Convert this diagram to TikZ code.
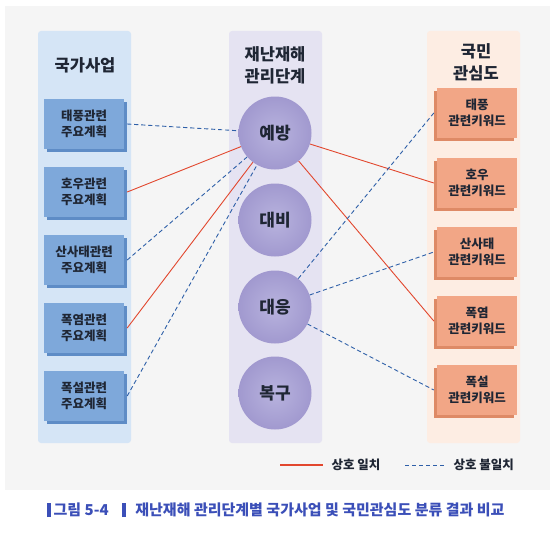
\documentclass[tikz,border=0pt]{standalone}
\usepackage{fontspec}
\setmainfont{Noto Sans CJK KR}
\usetikzlibrary{shadows}
\definecolor{panelbg}{HTML}{F5F5F5}
\definecolor{leftbg}{HTML}{D5E5F6}
\definecolor{midbg}{HTML}{E5E3F2}
\definecolor{rightbg}{HTML}{FDEDE3}
\definecolor{bluebox}{HTML}{7EA8DA}
\definecolor{blueside}{HTML}{5E8CC6}
\definecolor{orbox}{HTML}{F2A686}
\definecolor{orside}{HTML}{DE8A66}
\definecolor{circin}{HTML}{B8B3DE}
\definecolor{circout}{HTML}{A199CF}
\definecolor{matchred}{HTML}{E2472E}
\definecolor{missblue}{HTML}{2E5FA8}
\definecolor{capblue}{HTML}{3B4FB8}
\definecolor{darktext}{HTML}{1F2634}
\tikzset{
  colbg/.style={rounded corners=3pt, draw=none},
  planbox/.style={fill=bluebox, minimum width=80pt, minimum height=50pt, inner sep=0pt,
    align=center, text=darktext, font=\fontsize{12.5}{16}\selectfont\bfseries,
    drop shadow={shadow xshift=3pt, shadow yshift=-3pt, fill=blueside, opacity=1}},
  kwbox/.style={fill=orbox, minimum width=80pt, minimum height=50pt, inner sep=0pt,
    align=center, text=darktext, font=\fontsize{12.5}{16}\selectfont\bfseries,
    drop shadow={shadow xshift=-3pt, shadow yshift=-3pt, fill=orside, opacity=1}},
  phase/.style={circle, minimum size=73pt, inner sep=0pt, shading=radial,
    inner color=circin, outer color=circout, text=darktext,
    font=\fontsize{17}{18}\selectfont\bfseries},
  coltitle/.style={align=center, text=darktext, font=\fontsize{16.5}{22}\selectfont\bfseries},
  match/.style={draw=matchred, line width=0.9pt},
  nomatch/.style={draw=missblue, line width=0.9pt, dash pattern=on 4.2pt off 2.8pt},
  legtext/.style={anchor=west, text=darktext, font=\fontsize{12.5}{14}\selectfont\bfseries},
}
\begin{document}
\begin{tikzpicture}[x=1pt, y=-1pt]
\useasboundingbox (0,0) rectangle (557,535);
\fill[white] (0,0) rectangle (557,535);
\fill[panelbg] (5,6) rectangle (550,490);
% column backgrounds
\fill[colbg, leftbg] (38,31) rectangle (131,443);
\fill[colbg, midbg] (229,31) rectangle (322,443);
\fill[colbg, rightbg] (427,31) rectangle (520,443);
% titles
\node[coltitle] (tl) at (85,65) {국가사업};
\node[coltitle] (tm) at (275,65) {재난재해\\관리단계};
\node[coltitle] (tr) at (476,62) {국민\\관심도};
% left boxes
\node[planbox] (L1) at (84,124) {태풍관련\\주요계획};
\node[planbox] (L2) at (84,192) {호우관련\\주요계획};
\node[planbox] (L3) at (84,260) {산사태관련\\주요계획};
\node[planbox] (L4) at (84,328) {폭염관련\\주요계획};
\node[planbox] (L5) at (84,396) {폭설관련\\주요계획};
% phases
\node[phase] (P1) at (275,133) {예방};
\node[phase] (P2) at (275,220) {대비};
\node[phase] (P3) at (275,307) {대응};
\node[phase] (P4) at (275,393) {복구};
% right boxes
\node[kwbox] (R1) at (477,113) {태풍\\관련키워드};
\node[kwbox] (R2) at (477,183) {호우\\관련키워드};
\node[kwbox] (R3) at (477,252) {산사태\\관련키워드};
\node[kwbox] (R4) at (477,321) {폭염\\관련키워드};
\node[kwbox] (R5) at (477,390) {폭설\\관련키워드};
% connectors left
\draw[nomatch] ([xshift=3pt]L1.east) -- (P1);
\draw[match] ([xshift=3pt]L2.east) -- (P1);
\draw[nomatch] ([xshift=3pt]L3.east) -- (P1);
\draw[match] ([xshift=3pt]L4.east) -- (P1);
\draw[nomatch] ([xshift=3pt]L5.east) -- (P1);
% connectors right
\draw[match] (P1) -- ([xshift=-3pt]R2.west);
\draw[match] (P1) -- ([xshift=-3pt]R4.west);
\draw[nomatch] (P3) -- ([xshift=-3pt]R1.west);
\draw[nomatch] (P3) -- ([xshift=-3pt]R3.west);
\draw[nomatch] (P3) -- ([xshift=-3pt]R5.west);
% legend
\coordinate (la) at (280,465);
\coordinate (lb) at (323,465);
\coordinate (lc) at (405,465);
\coordinate (ld) at (445,465);
\draw[match, line width=1.1pt] (la) -- (lb);
\draw[nomatch] (lc) -- (ld);
\node[legtext] (lt1) at (328,465) {상호 일치};
\node[legtext] (lt2) at (450,465) {상호 불일치};
% caption
\node[anchor=west, text=capblue, font=\fontsize{15}{18}\selectfont\bfseries, inner sep=0pt] (cap) at (47,510)
  {\rule[-0.12em]{0.28em}{0.95em}\hspace{0.15em}그림 5-4\hspace{0.9em}\rule[-0.12em]{0.28em}{0.95em}\hspace{0.6em}재난재해 관리단계별 국가사업 및 국민관심도 분류 결과 비교};
\end{tikzpicture}
\end{document}
